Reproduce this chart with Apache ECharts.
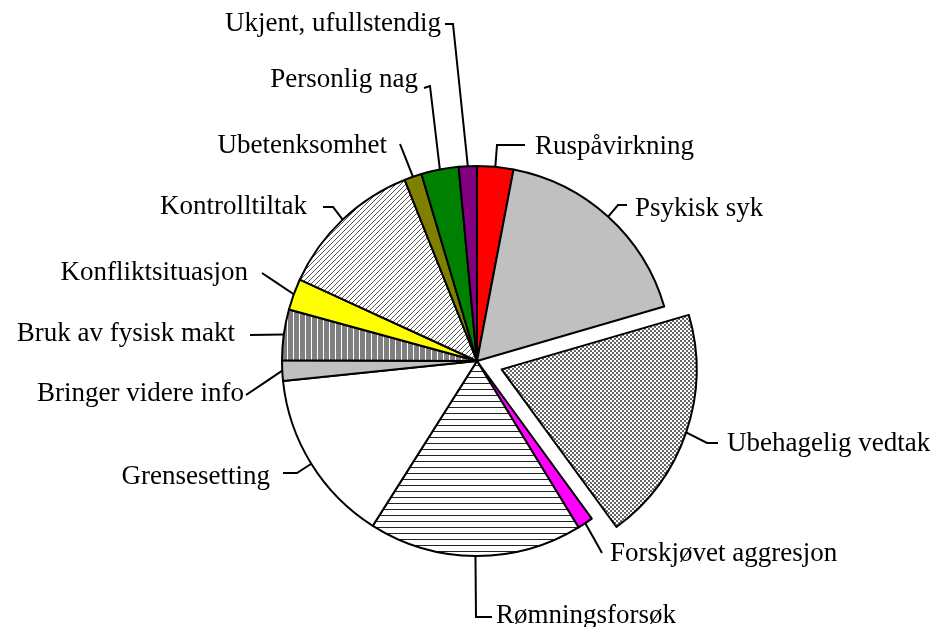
<!DOCTYPE html>
<html><head><meta charset="utf-8">
<script src="https://cdn.jsdelivr.net/npm/echarts@6/dist/echarts.min.js"></script>
<style>html,body{margin:0;padding:0;background:#fff}#c{width:937px;height:627px}</style>
</head><body><div id="c"></div>
<script>
// ---- data ----
const categories = ["Ruspåvirkning","Psykisk syk","Ubehagelig vedtak","Forskjøvet aggresjon","Rømningsforsøk","Grensesetting","Bringer videre info","Bruk av fysisk makt","Konfliktsituasjon","Kontrolltiltak","Ubetenksomhet","Personlig nag","Ukjent, ufullstendig"];
const values = [3.0, 17.5, 19.5, 1.3, 17.7, 14.4, 1.7, 4.2, 2.6, 12.1, 1.45, 3.1, 1.5];
const explodedIndex = 2;

// ---- style / layout ----
const CX = 477, CY = 361, R = 195, OFF = 26;
function pat(w,h,draw){const c=document.createElement('canvas');c.width=w;c.height=h;const g=c.getContext('2d');draw(g);return {image:c,repeat:'repeat'};}
const checker = pat(4,4,g=>{g.fillStyle='#fff';g.fillRect(0,0,4,4);g.fillStyle='#666';g.fillRect(0,0,2,2);g.fillRect(2,2,2,2);});
const hlines = pat(6,6,g=>{g.fillStyle='#fff';g.fillRect(0,0,6,6);g.fillStyle='#222';g.fillRect(0,5,6,1);});
const vlines = pat(6,6,g=>{g.fillStyle='#808080';g.fillRect(0,0,6,6);g.fillStyle='#fff';g.fillRect(5,0,1,6);});
const diag = pat(5,5,g=>{g.fillStyle='#fff';g.fillRect(0,0,5,5);g.fillStyle='#555';for(let i=0;i<5;i++)g.fillRect(i,4-i,1,1);});
const fills = ['#ff0000','#c0c0c0',checker,'#ff00ff',hlines,'#ffffff','#c0c0c0',vlines,'#ffff00',diag,'#808000','#008000','#800080'];

// label text anchor and leader-line elbow/end points
const labelPlacement = [
  {x:535,y:146.8,align:'left', elbow:[497,145], end:[525,145]},
  {x:635,y:208.5,align:'left', elbow:[618,205], end:[627,205]},
  {x:727,y:443.5,align:'left', elbow:[707,443], end:[718,443]},
  {x:610,y:553.5,align:'left', elbow:null, end:[602,553]},
  {x:496,y:616,align:'left', elbow:[476,617], end:[492,617]},
  {x:270,y:476.8,align:'right', elbow:[297,473], end:[283,473]},
  {x:244,y:393.5,align:'right', elbow:null, end:[246,395]},
  {x:235,y:333.5,align:'right', elbow:null, end:[250,335]},
  {x:248,y:272.5,align:'right', elbow:null, end:[262,273]},
  {x:307,y:206.8,align:'right', elbow:[333,207], end:[323,207]},
  {x:387,y:146,align:'right', elbow:null, end:[400,144]},
  {x:418,y:80,align:'right', elbow:[430,86], end:[424,88]},
  {x:441,y:23.5,align:'right', elbow:[453,24], end:[445,24]}
];

const total = values.reduce((a,b)=>a+b,0);
const midAngles = [];
{let acc=0;values.forEach(v=>{midAngles.push((acc+v/2)/total*360);acc+=v;});}
const exA = midAngles[explodedIndex]*Math.PI/180;
const EX = CX + OFF*Math.sin(exA), EY = CY - OFF*Math.cos(exA);

const hidden = {color:'rgba(0,0,0,0)',borderWidth:0};
const common = {type:'pie',radius:R,startAngle:90,clockwise:true,avoidLabelOverlap:false,
  emphasis:{disabled:true},itemStyle:{borderColor:'#000',borderWidth:2}};

const chart = echarts.init(document.getElementById('c'));
chart.setOption({
  animation:false,
  backgroundColor:'#fff',
  series:[Object.assign({}, common, {
    center:[CX,CY],
    label:{show:true,position:'outside',fontFamily:'Liberation Serif',fontSize:27,color:'#000'},
    labelLine:{show:true,length:10,length2:10,smooth:false,lineStyle:{color:'#000',width:2}},
    labelLayout:function(p){
      const i=p.dataIndex, L=labelPlacement[i];
      const a=midAngles[i]*Math.PI/180;
      let cx=CX, cy=CY;
      if(i===explodedIndex){cx=EX;cy=EY;}
      const s=[cx+R*Math.sin(a), cy-R*Math.cos(a)];
      const pts=L.elbow?[s,L.elbow,L.end]:[s,[(s[0]+L.end[0])/2,(s[1]+L.end[1])/2],L.end];
      return {x:L.x,y:L.y,align:L.align,verticalAlign:'middle',labelLinePoints:pts};
    },
    data:categories.map((n,i)=>({name:n,value:values[i],
      itemStyle: i===explodedIndex ? hidden : {color:fills[i]}}))
  }), Object.assign({}, common, {
    center:[EX,EY],
    silent:true,
    label:{show:false},labelLine:{show:false},
    data:categories.map((n,i)=>({name:n,value:values[i],
      itemStyle: i===explodedIndex ? {color:fills[i]} : hidden}))
  })]
});
</script></body></html>
